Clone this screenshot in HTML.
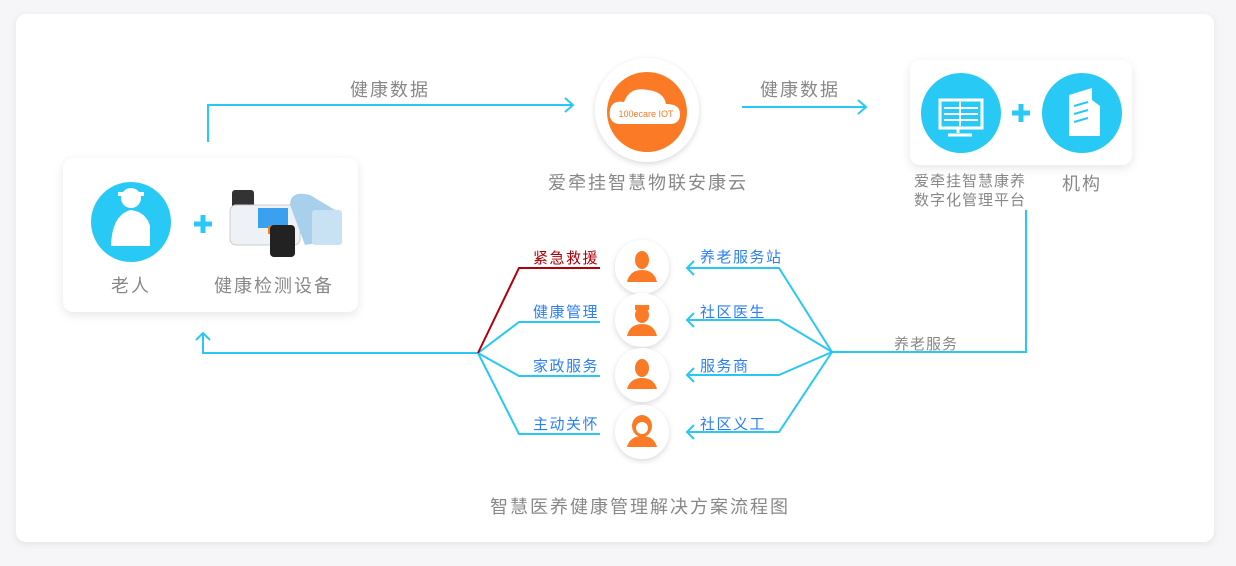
<!DOCTYPE html>
<html><head><meta charset="utf-8"><style>
body{margin:0;width:1236px;height:566px;background:#f6f6f8;font-family:"Liberation Sans","Noto Sans CJK SC",sans-serif;position:relative;overflow:hidden}
.card{position:absolute;background:#fff;border-radius:10px;box-shadow:0 2px 8px rgba(0,0,0,.08)}
.t{position:absolute;white-space:nowrap;color:#888;font-size:18px;letter-spacing:2px}
.b{color:#2b7ff5;font-size:15px;letter-spacing:1.5px}
</style></head><body>
<div class="card" style="left:16px;top:14px;width:1198px;height:528px"></div>
<div class="card" style="left:63px;top:158px;width:295px;height:154px;box-shadow:0 3px 10px rgba(0,0,0,.1)"></div>
<div class="card" style="left:910px;top:60px;width:222px;height:105px;box-shadow:0 3px 10px rgba(0,0,0,.1)"></div>
<svg width="1236" height="566" style="position:absolute;left:0;top:0">
<defs><filter id="sh"><feDropShadow dx="0" dy="2" stdDeviation="3" flood-opacity=".15"/></filter></defs>
<g fill="none" stroke="#29c8f4" stroke-width="2">
<polyline points="208,142 208,105 572,105"/><polyline points="565,98 573,105 565,112"/>
<line x1="742" y1="107" x2="865" y2="107"/><polyline points="858,100 866,107 858,114"/>
<polyline points="1026,210 1026,352 832,352"/>
<polyline points="832,352 779,268 687,268"/><polyline points="832,352 779,320 687,320"/>
<polyline points="832,352 779,375 687,375"/><polyline points="832,352 779,432 687,432"/>
<polyline points="694,261 687,268 694,275"/><polyline points="694,313 687,320 694,327"/>
<polyline points="694,368 687,375 694,382"/><polyline points="694,425 687,432 694,439"/>
<polyline points="478,353 519,322 600,322"/><polyline points="478,353 519,376 600,376"/>
<polyline points="478,353 519,434 600,434"/>
<polyline points="478,353 203,353 203,333"/><polyline points="196,340 203,333 210,340"/>
</g>
<polyline points="478,353 519,268 600,268" fill="none" stroke="#b0000a" stroke-width="2"/>
<circle cx="131" cy="222" r="40" fill="#28c9f5"/>
<circle cx="131" cy="198" r="10" fill="#fff"/><rect x="118" y="192" width="26" height="4" fill="#fff"/>
<path d="M111 246 Q112 214 131 210 Q146 212 150 226 L150 246 Z" fill="#fff"/>
<path d="M203 215v18M194 224h18" stroke="#28c9f5" stroke-width="5"/>
<rect x="232" y="190" width="22" height="30" rx="3" fill="#333"/>
<rect x="230" y="205" width="70" height="40" rx="6" fill="#eef2f6" stroke="#ccc"/>
<rect x="258" y="208" width="30" height="20" fill="#3aa0f0"/><rect x="268" y="226" width="12" height="8" fill="#f08020"/>
<path d="M290 205 Q290 190 310 195 L335 210 L335 240 L305 245Z" fill="#a8d0ec"/>
<rect x="312" y="210" width="30" height="35" rx="3" fill="#c8e2f4"/>
<rect x="270" y="225" width="25" height="32" rx="4" fill="#222"/>
<circle cx="647" cy="110" r="52" fill="#fff" filter="url(#sh)"/>
<circle cx="647" cy="112" r="40" fill="#fa7a25"/>
<path d="M618 124 Q608 122 610 110 Q612 100 624 102 Q630 86 648 90 Q664 92 666 104 Q680 104 680 114 Q680 124 670 124Z" fill="#fff"/>
<text x="646" y="117" font-size="9" fill="#fa7a25" text-anchor="middle" font-family="Liberation Sans">100ecare IOT</text>
<circle cx="961" cy="113" r="40" fill="#28c9f5"/>
<rect x="940" y="100" width="42" height="28" fill="none" stroke="#fff" stroke-width="3"/>
<path d="M944 108h34M944 114h34M944 120h34M960 102v24" stroke="#fff" stroke-width="2"/>
<path d="M958 128v5M948 135h24" stroke="#fff" stroke-width="3"/>
<path d="M1021 104v18M1012 113h18" stroke="#28c9f5" stroke-width="5"/>
<circle cx="1082" cy="113" r="40" fill="#28c9f5"/>
<path d="M1069 136V95L1092 88V136ZM1092 100L1100 106V136H1092" fill="#fff"/>
<path d="M1074 106l14-4M1074 114l14-4M1074 122l14-4" stroke="#28c9f5" stroke-width="2"/>
<g fill="#fa7a25">
<circle cx="642" cy="267" r="27" fill="#fff" filter="url(#sh)"/>
<circle cx="642" cy="320" r="27" fill="#fff" filter="url(#sh)"/>
<circle cx="642" cy="375" r="27" fill="#fff" filter="url(#sh)"/>
<circle cx="642" cy="432" r="27" fill="#fff" filter="url(#sh)"/>
<ellipse cx="642" cy="260" rx="7" ry="9"/><path d="M627 282 Q630 270 642 270 Q654 270 657 282Z"/>
<ellipse cx="642" cy="315" rx="7" ry="8"/><rect x="635" y="305" width="14" height="5"/><path d="M627 336 Q630 324 642 324 Q654 324 657 336Z"/>
<ellipse cx="642" cy="368" rx="7" ry="9"/><path d="M627 389 Q630 378 642 378 Q654 378 657 389Z"/>
<ellipse cx="642" cy="426" rx="10" ry="11"/><path d="M627 447 Q630 436 642 436 Q654 436 657 447Z"/>
</g>
<circle cx="642" cy="428" r="6" fill="#fff"/>
</svg>
<div class="t" style="left:111px;top:272px">老人</div>
<div class="t" style="left:214px;top:272px">健康检测设备</div>
<div class="t" style="left:350px;top:76px">健康数据</div>
<div class="t" style="left:760px;top:76px">健康数据</div>
<div class="t" style="left:548px;top:169px">爱牵挂智慧物联安康云</div>
<div class="t" style="left:914px;top:172px;font-size:15px;line-height:19px;letter-spacing:1px">爱牵挂智慧康养<br>数字化管理平台</div>
<div class="t" style="left:1062px;top:170px">机构</div>
<div class="t" style="left:894px;top:333px;font-size:15px;letter-spacing:1px">养老服务</div>
<div class="t b" style="left:533px;top:247px;color:#b0000a">紧急救援</div>
<div class="t b" style="left:533px;top:301px">健康管理</div>
<div class="t b" style="left:533px;top:355px">家政服务</div>
<div class="t b" style="left:533px;top:413px">主动关怀</div>
<div class="t b" style="left:700px;top:246px">养老服务站</div>
<div class="t b" style="left:700px;top:301px">社区医生</div>
<div class="t b" style="left:700px;top:355px">服务商</div>
<div class="t b" style="left:700px;top:413px">社区义工</div>
<div class="t" style="left:490px;top:493px">智慧医养健康管理解决方案流程图</div>
</body></html>
